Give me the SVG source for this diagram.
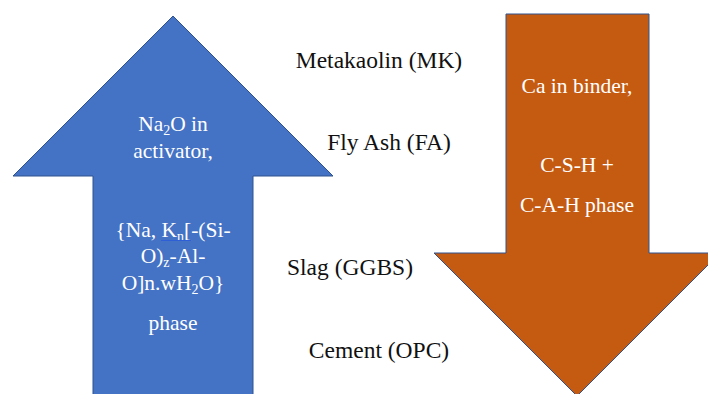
<svg xmlns="http://www.w3.org/2000/svg" width="708" height="394" viewBox="0 0 708 394">
<style>
.lbl{font-family:'Times New Roman','Liberation Serif','DejaVu Serif',serif;font-size:23.5px;fill:#111;text-anchor:middle}
.in{font-family:'Times New Roman','Liberation Serif','DejaVu Serif',serif;font-size:21.5px;fill:#fff;text-anchor:middle}
.arrow{stroke:#2F528F;stroke-width:1}
</style>
<rect width="708" height="394" fill="#fff"/>
<g id="blue-arrow">
<polygon class="arrow" fill="#4472C4" points="173,16 333,176 253,176 253,395 93,395 93,176 13,176"/>
<text class="in" x="173" y="131">Na<tspan font-size="14" dy="4">2</tspan><tspan dy="-4">O in</tspan></text>
<text class="in" x="173" y="158">activator,</text>
<text class="in" x="173" y="237">{Na, K<tspan font-size="14" dy="4">n</tspan><tspan dy="-4">[-(Si-</tspan></text>
<line x1="161" y1="240.5" x2="191" y2="240.5" stroke="#2E5FD6" stroke-width="1"/>
<text class="in" x="173" y="263">O)<tspan font-size="14" dy="4">z</tspan><tspan dy="-4">-Al-</tspan></text>
<text class="in" x="173" y="290">O]n.wH<tspan font-size="14" dy="4">2</tspan><tspan dy="-4">O}</tspan></text>
<text class="in" x="173" y="330">phase</text>
</g>
<g id="orange-arrow">
<polygon class="arrow" fill="#C55A11" points="506,14 649,14 649,253 720,253 577,396 434,253 506,253"/>
<text class="in" x="577" y="93">Ca in binder,</text>
<text class="in" x="577" y="172">C-S-H +</text>
<text class="in" x="577" y="212">C-A-H phase</text>
</g>
<g id="labels">
<text class="lbl" x="379" y="68">Metakaolin (MK)</text>
<text class="lbl" x="389" y="150">Fly Ash (FA)</text>
<text class="lbl" x="350" y="275">Slag (GGBS)</text>
<text class="lbl" x="379" y="358">Cement (OPC)</text>
</g>
<g id="connectors"/>
</svg>
